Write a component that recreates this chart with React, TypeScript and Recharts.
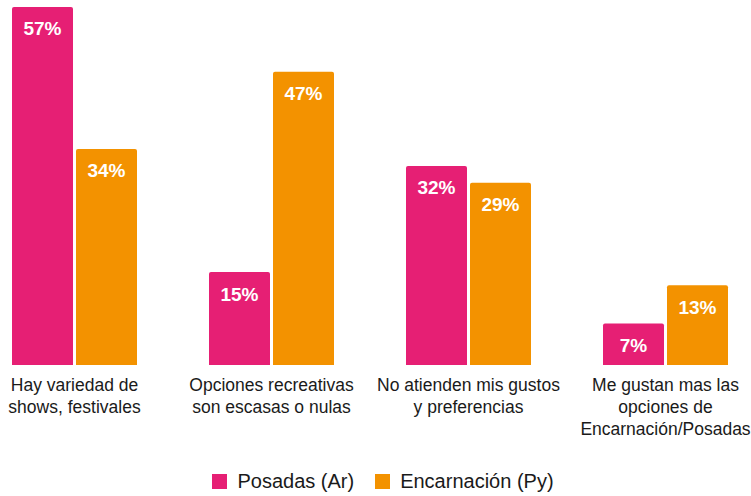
import React from "react";
import { BarChart, Bar, XAxis, YAxis, Legend, LabelList } from "recharts";

const categories = [
  "Hay variedad de\nshows, festivales",
  "Opciones recreativas\nson escasas o nulas",
  "No atienden mis gustos\ny preferencias",
  "Me gustan mas las\nopciones de\nEncarnación/Posadas",
];
const posadas = [57, 14.8, 31.7, 6.6];
const encarnacion = [34.4, 46.7, 29, 12.7];
const seriesNames = ["Posadas (Ar)", "Encarnación (Py)"];
const colors = ["#E61F74", "#F39200"];

const data = categories.map((c, i) => ({
  name: c,
  posadas: posadas[i],
  encarnacion: encarnacion[i],
}));

const FONT = "'Liberation Sans', Arial, Helvetica, sans-serif";

const Tick = (props: any) => {
  const { x, y, payload } = props;
  const lines = String(payload.value).split("\n");
  return (
    <text x={x} y={y} textAnchor="middle" fill="#1a1a1a" fontSize={17.5} fontFamily={FONT}>
      {lines.map((l, i) => (
        <tspan key={i} x={x} y={y + 26 + i * 22}>
          {l}
        </tspan>
      ))}
    </text>
  );
};

const LegendContent = () => (
  <div
    style={{
      display: "flex",
      justifyContent: "center",
      alignItems: "center",
      height: 30,
      fontFamily: FONT,
      fontSize: 20,
      color: "#1a1a1a",
      paddingLeft: 26,
    }}
  >
    {seriesNames.map((n, i) => (
      <div key={n} style={{ display: "flex", alignItems: "center", marginRight: i === 0 ? 21 : 0 }}>
        <div style={{ width: 15, height: 15, background: colors[i], marginRight: 10 }} />
        <span>{n}</span>
      </div>
    ))}
  </div>
);

const fmt = (v: any) => `${Math.round(Number(v))}%`;

export default function App() {
  return (
    <div style={{ position: "absolute", left: 0, top: 0, width: 751, height: 496, overflow: "hidden", background: "#fff" }}>
      <div style={{ position: "absolute", left: -24, top: 0 }}>
        <BarChart
          width={788}
          height={496}
          data={data}
          margin={{ top: 7, right: 0, bottom: 0, left: 0 }}
          barCategoryGap={36}
          barGap={3}
        >
          <XAxis
            dataKey="name"
            axisLine={false}
            tickLine={false}
            tickSize={0}
            tickMargin={0}
            height={101}
            interval={0}
            tick={<Tick />}
          />
          <YAxis hide domain={[0, "dataMax"]} />
          <Legend
            verticalAlign="bottom"
            height={30}
            wrapperStyle={{ height: 30 }}
            content={<LegendContent />}
          />
          <Bar dataKey="posadas" name={seriesNames[0]} fill={colors[0]} radius={[2, 2, 0, 0]} isAnimationActive={false}>
            <LabelList
              dataKey="posadas"
              position="insideTop"
              offset={15}
              formatter={fmt}
              fill="#fff"
              fontSize={19}
              fontWeight="bold"
              fontFamily={FONT}
            />
          </Bar>
          <Bar dataKey="encarnacion" name={seriesNames[1]} fill={colors[1]} radius={[2, 2, 0, 0]} isAnimationActive={false}>
            <LabelList
              dataKey="encarnacion"
              position="insideTop"
              offset={15}
              formatter={fmt}
              fill="#fff"
              fontSize={19}
              fontWeight="bold"
              fontFamily={FONT}
            />
          </Bar>
        </BarChart>
      </div>
    </div>
  );
}
